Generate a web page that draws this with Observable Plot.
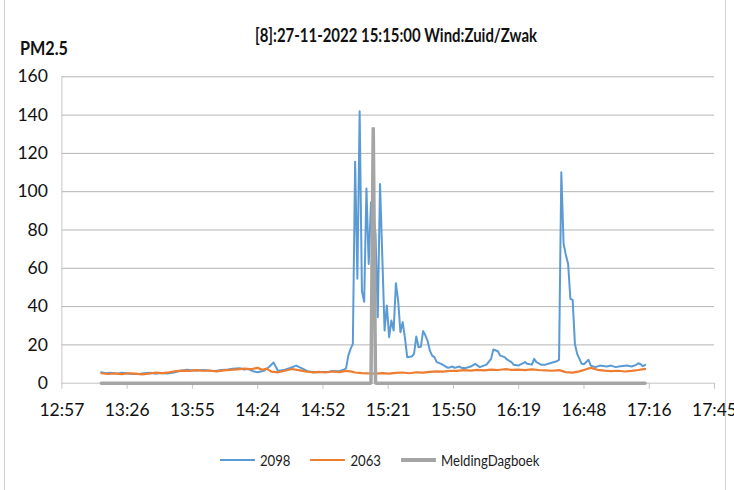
<!DOCTYPE html>
<html><head><meta charset="utf-8">
<script src="https://cdn.jsdelivr.net/npm/d3@7"></script>
<script src="https://cdn.jsdelivr.net/npm/@observablehq/plot@0.6"></script>
<style>
body{margin:0;background:#fff;}
#chart{position:relative;width:734px;height:490px;overflow:hidden;background:#fff;
  font-family:Lato,Roboto,sans-serif;color:#111;}
#chart svg{position:absolute;left:0;top:0;}
#frame{position:absolute;left:4px;top:-2px;width:722px;height:493px;border:1px solid #d0d0d0;box-sizing:border-box;}
#title{position:absolute;left:396px;top:24px;white-space:nowrap;font-weight:bold;font-size:18.5px;transform-origin:0 0;}
#ylabel{position:absolute;left:20px;top:37px;font-weight:bold;font-size:18.5px;transform-origin:0 0;}
#legend{position:absolute;top:451px;left:220px;display:flex;align-items:center;font-size:15.5px;white-space:nowrap;transform:scaleX(0.85);transform-origin:0 0;color:#222;}
.item{display:flex;align-items:center;margin-right:23.5px;}
.swatch{width:41px;margin-right:6px;}
</style></head><body>
<div id="chart">
  <div id="frame"></div>
  <div id="title">[8]:27-11-2022 15:15:00 Wind:Zuid/Zwak</div>
  <div id="ylabel">PM2.5</div>
  <div id="legend"></div>
</div>
<script>
// ---- data ----
const seriesNames = ["2098", "2063", "MeldingDagboek"];
const seriesColors = ["#5B9BD5", "#ED7D31", "#A5A5A5"];
const xTickLabels = ["12:57","13:26","13:55","14:24","14:52","15:21","15:50","16:19","16:48","17:16","17:45"];
const yTicks = [0,20,40,60,80,100,120,140,160];

const times2098 = ["13:15","13:17","13:19","13:22","13:24","13:26","13:29","13:32","13:35","13:37","13:39","13:41","13:44","13:47","13:50","13:53","13:55","13:57","14:00","14:03","14:05","14:08","14:11","14:13","14:16","14:18","14:20","14:22","14:24","14:27","14:29","14:31","14:33","14:36","14:38","14:41","14:44","14:46","14:49","14:52","14:55","14:57","15:00","15:02","15:03","15:04","15:05","15:06","15:07","15:08","15:09","15:10","15:11","15:12","15:13","15:14","15:15","15:16","15:17","15:18","15:19","15:20","15:21","15:22","15:23","15:24","15:25","15:26","15:27","15:28","15:29","15:30","15:31","15:32","15:33","15:34","15:35","15:36","15:37","15:38","15:39","15:40","15:41","15:42","15:43","15:45","15:47","15:48","15:50","15:51","15:53","15:54","15:56","15:58","16:00","16:02","16:05","16:07","16:08","16:10","16:11","16:13","16:14","16:16","16:17","16:19","16:22","16:23","16:25","16:26","16:27","16:29","16:31","16:33","16:36","16:37","16:38","16:39","16:40","16:41","16:42","16:43","16:44","16:45","16:47","16:48","16:50","16:51","16:53","16:55","16:58","17:00","17:02","17:04","17:07","17:09","17:11","17:12","17:13","17:14","17:15"];
const values2098 = [5.7,5.2,5.4,5.0,5.5,5.2,4.8,5.0,5.3,5.4,4.9,5.3,5.1,5.6,6.5,7.0,6.7,6.6,6.9,6.5,6.4,6.9,7.1,7.6,7.8,7.2,7.4,6.2,5.7,6.6,8.5,10.8,6.4,7.0,7.8,9.2,7.5,6.3,5.7,5.9,5.8,6.4,6.3,7.0,7.8,14.4,17.9,20.5,115.7,54.5,142,48,42.5,101.7,62.3,94.5,88,78,34.5,104,66,27.5,40.6,24,32.7,27.5,52.2,43,26.6,31.9,23.5,13.6,13.8,13.9,15.3,24.4,18.8,19.0,27.2,25,22,17,14.4,13.6,11,10.1,8.7,8.0,8.7,8.0,8.7,8.0,8.0,8.7,10.1,8.4,9.7,12.7,17.6,16.7,14.4,13.6,12.4,11,9.6,9.2,11,10.1,9.7,12.7,11,9.7,9.7,10.4,11.5,12.2,110.2,72.8,67,62.3,44,43.5,20.5,15.3,10.1,9.9,12.2,9.2,8.4,9.2,8.7,9.2,8.4,8.9,9.2,8.7,9.6,10.4,9.9,8.9,9.6];

const times2063 = ["13:15","13:18","13:21","13:24","13:27","13:30","13:33","13:36","13:39","13:42","13:45","13:48","13:51","13:54","13:57","14:00","14:03","14:06","14:09","14:12","14:15","14:18","14:21","14:24","14:26","14:28","14:30","14:33","14:36","14:39","14:42","14:45","14:48","14:51","14:54","14:57","15:00","15:03","15:05","15:07","15:10","15:13","15:16","15:19","15:22","15:25","15:28","15:31","15:34","15:37","15:40","15:43","15:46","15:49","15:52","15:55","15:58","16:01","16:04","16:07","16:10","16:13","16:16","16:19","16:22","16:25","16:28","16:31","16:34","16:37","16:40","16:43","16:46","16:49","16:51","16:54","16:57","17:00","17:03","17:06","17:09","17:12","17:15"];
const values2063 = [5.2,4.8,5.1,4.7,5.2,5.0,4.6,5.0,5.5,5.3,5.7,6.3,6.6,6.4,6.8,6.5,6.6,6.2,6.7,7.0,7.2,7.6,7.3,8.0,7.0,7.6,6.0,5.7,6.5,7.4,6.8,6.2,5.7,5.9,5.6,6.1,5.8,6.4,6.2,5.6,5.3,5.1,5.0,5.3,5.0,5.4,5.6,5.2,5.7,5.5,5.9,6.2,6.0,6.5,6.4,6.8,6.6,7.0,6.7,7.1,6.9,7.3,7.0,7.1,6.8,7.2,6.9,6.7,6.5,6.8,5.8,5.5,6.2,7.3,8.0,7.0,6.6,6.3,6.5,6.1,6.4,6.9,7.5];

const timesMelding = ["13:15","15:14","15:15","15:16","17:15"];
const valuesMelding = [0,0,133.7,0,0];

// ---- helpers ----
const toMin = s => { const [h,m] = s.split(":").map(Number); return h*60+m; };
const xStart = 0.54*1440, xStep = 0.02*1440;           // Excel axis: 0.54 .. 0.74 day
const xTicks = xTickLabels.map((_,i) => xStart + i*xStep);
const xDomain = [xTicks[0], xTicks[xTicks.length-1]];

const rows = (name, times, values) => times.map((t,i) => ({series:name, t:toMin(t), v:values[i]}));
const d2098 = rows(seriesNames[0], times2098, values2098);
const d2063 = rows(seriesNames[1], times2063, values2063);
const dMeld = rows(seriesNames[2], timesMelding, valuesMelding);

const chart = Plot.plot({
  width: 734, height: 490,
  marginLeft: 61.4, marginRight: 20, marginTop: 76.3, marginBottom: 107.3,
  style: {fontFamily: "Lato, Roboto, sans-serif", fontSize: "17.5px", background: "transparent", color: "#111"},
  x: {type: "linear", domain: xDomain},
  y: {domain: [0,160]},
  marks: [
    Plot.gridY(yTicks.filter(d => d > 0), {stroke: "#b4b4b4", strokeOpacity: 1}),
    Plot.ruleX([xDomain[0]], {stroke: "#c4c4c4"}),
    Plot.ruleY([0], {stroke: "#c4c4c4"}),
    Plot.axisX({ticks: xTicks, tickFormat: (d,i) => xTickLabels[i], tickSize: 6, tickPadding: 14, stroke: "#c4c4c4", fill: "#111", label: null}),
    Plot.axisY({ticks: yTicks, tickSize: 0, tickPadding: 14, fill: "#111", label: null}),
    Plot.line(d2098, {x: "t", y: "v", stroke: seriesColors[0], strokeWidth: 2, strokeLinejoin: "round"}),
    Plot.line(d2063, {x: "t", y: "v", stroke: seriesColors[1], strokeWidth: 2.2, strokeLinejoin: "round"}),
    Plot.line(dMeld, {x: "t", y: "v", stroke: seriesColors[2], strokeWidth: 3.5, strokeLinejoin: "miter"})
  ]
});
document.getElementById("chart").insertBefore(chart, document.getElementById("title"));

// fit title and y label to the reference's narrow (Calibri-like) widths
function fit(el, targetW, centerX) {
  const w = el.getBoundingClientRect().width;
  const s = targetW / w;
  el.style.transform = `scaleX(${s})`;
  if (centerX != null) el.style.left = (centerX - targetW/2) + "px";
}
fit(document.getElementById("title"), 282, 396);
fit(document.getElementById("ylabel"), 48, null);

// legend
const legend = document.getElementById("legend");
seriesNames.forEach((n,i) => {
  const it = document.createElement("div"); it.className = "item";
  const sw = document.createElement("div"); sw.className = "swatch";
  sw.style.height = (i === 2 ? 4 : 2) + "px"; sw.style.background = seriesColors[i];
  const lb = document.createElement("span"); lb.textContent = n;
  it.appendChild(sw); it.appendChild(lb); legend.appendChild(it);
});
</script>
</body></html>
